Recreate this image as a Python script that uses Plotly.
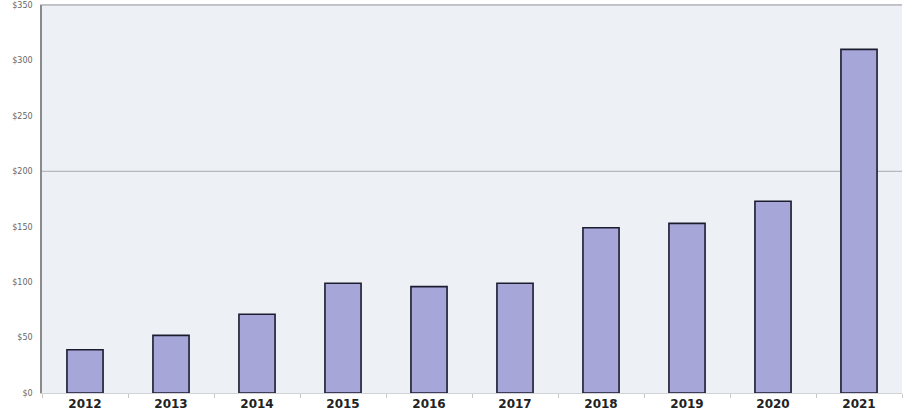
import plotly.graph_objects as go

years = ["2012", "2013", "2014", "2015", "2016", "2017", "2018", "2019", "2020", "2021"]
values = [39, 52, 71, 99, 96, 99, 149, 153, 173, 310]
y_ticks = [0, 50, 100, 150, 200, 250, 300, 350]
y_tick_labels = ["$0", "$50", "$100", "$150", "$200", "$250", "$300", "$350"]

fig = go.Figure(
    go.Bar(
        x=years,
        y=values,
        width=0.42,
        marker=dict(color="#a6a6d8", line=dict(color="#1c1c30", width=1.6)),
    )
)

fig.add_shape(
    type="line", xref="paper", x0=0, x1=1, yref="y", y0=200, y1=200,
    line=dict(color="#a8aab0", width=1), layer="below",
)

fig.update_layout(
    width=907,
    height=419,
    margin=dict(l=42, r=5, t=5, b=26, autoexpand=False),
    paper_bgcolor="white",
    plot_bgcolor="#edf0f5",
    showlegend=False,
    xaxis=dict(
        type="category",
        automargin=False,
        showgrid=False,
        tickfont=dict(family="DejaVu Sans", size=12, color="#222222", weight="bold"),
        ticks="outside",
        tickson="boundaries",
        ticklen=4,
        tickcolor="#c8c8cc",
        showline=True,
        linecolor="#d0d2d6",
        mirror=True,
        zeroline=False,
    ),
    yaxis=dict(
        range=[0, 350],
        automargin=False,
        tickvals=y_ticks,
        ticktext=y_tick_labels,
        showgrid=False,
        tickfont=dict(family="DejaVu Sans", size=8, color="#666666"),
        ticklabelstandoff=6,
        showline=True,
        linecolor="#8a8a8a",
        linewidth=1.5,
        mirror=False,
        zeroline=False,
        ticks="",
    ),
)

fig.add_shape(
    type="line", xref="paper", x0=0, x1=1, yref="paper", y0=1, y1=1,
    line=dict(color="#b8b8bc", width=1.5),
)

fig.write_html(
    "out.html",
    config={"displayModeBar": False},
    post_script="document.body.style.margin='0';",
)
